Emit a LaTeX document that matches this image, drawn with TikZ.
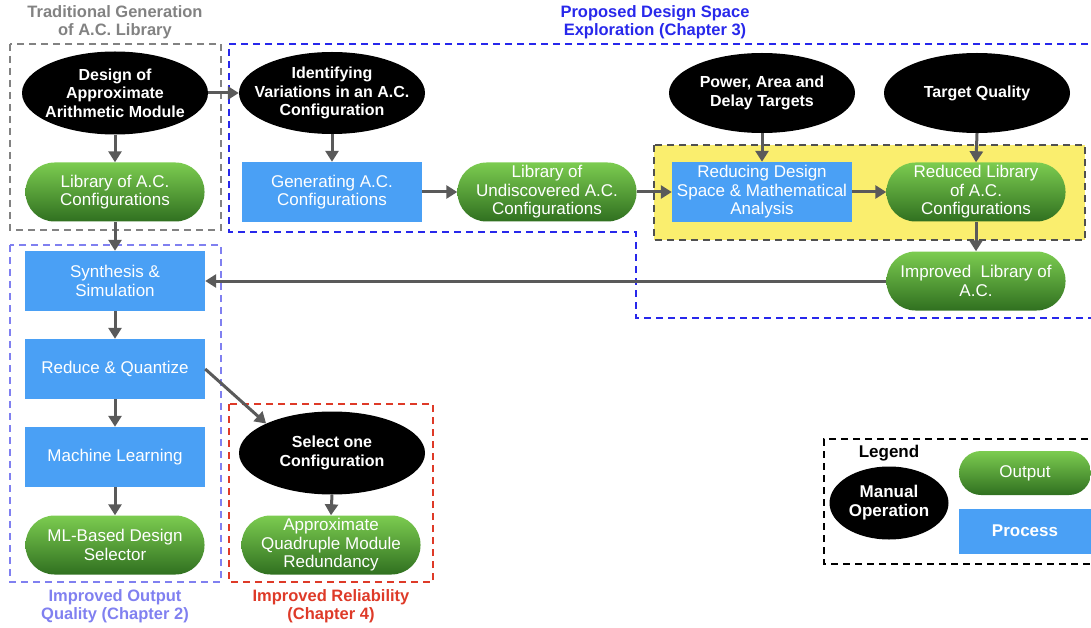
\documentclass[tikz,border=0pt]{standalone}
\usepackage{fontspec}
\setmainfont{Liberation Sans}
\usetikzlibrary{shapes.geometric,arrows.meta}
\definecolor{procblue}{RGB}{74,160,245}
\definecolor{gtop}{RGB}{124,204,80}
\definecolor{gbot}{RGB}{48,112,32}
\definecolor{arrgray}{RGB}{90,90,90}
\definecolor{tradgray}{RGB}{130,130,130}
\definecolor{dseblue}{RGB}{40,40,235}
\definecolor{oqpurple}{RGB}{128,128,240}
\definecolor{relred}{RGB}{222,58,40}
\definecolor{hiyellow}{RGB}{250,238,110}
\definecolor{hiborder}{RGB}{80,80,80}
\tikzset{
  manual/.style={ellipse, fill=black, text=white, inner sep=-40pt, align=center,
    font=\fontsize{16}{18.5}\selectfont\bfseries},
  outbox/.style={rectangle, rounded corners=29pt, top color=gtop, bottom color=gbot,
    text=white, inner sep=0pt, align=center, minimum width=179pt, minimum height=59pt,
    font=\fontsize{17}{18.5}\selectfont},
  procbox/.style={rectangle, fill=procblue, text=white, inner sep=0pt, align=center,
    minimum width=180pt, minimum height=60pt, font=\fontsize{17}{18.5}\selectfont},
  flow/.style={draw=arrgray, line width=3pt, -{Triangle[length=11pt,width=13pt]}},
  groupline/.style={line width=2.6pt, dash pattern=on 7pt off 5pt},
  grouptitle/.style={align=center, font=\fontsize{16.5}{18}\selectfont\bfseries}
}
\begin{document}
\begin{tikzpicture}[x=1pt,y=-1pt]
\useasboundingbox (0,0) rectangle (1091,628);

% group frames
\fill[hiyellow] (654,145) rectangle (1085,240);
\draw[hiborder, groupline] (654,145) rectangle (1085,240);
\draw[tradgray, groupline] (10,44) rectangle (221,230);
\draw[dseblue, groupline] (1100,44) -- (229,44) -- (229,232) -- (636,232) -- (636,318) -- (1100,318);
\draw[oqpurple, groupline] (10,245) rectangle (221,582);
\draw[relred, groupline] (229,404) rectangle (433,582);
\draw[black, groupline] (1100,439) -- (824,439) -- (824,564) -- (1100,564);

% group titles
\node[grouptitle, text=tradgray] (ttrad) at (115,22) {Traditional Generation\\of A.C. Library};
\node[grouptitle, text=dseblue] (tdse) at (655,22) {Proposed Design Space\\Exploration (Chapter 3)};
\node[grouptitle, text=oqpurple] (toq) at (115,606) {Improved Output\\Quality (Chapter 2)};
\node[grouptitle, text=relred] (trel) at (331,606) {Improved Reliability\\(Chapter 4)};

% traditional generation
\node[manual, minimum width=186pt, minimum height=83pt] (design) at (115,93) {Design of\\Approximate\\Arithmetic Module};
\node[outbox] (lib) at (115,192) {Library of A.C.\\Configurations};

% design space exploration
\node[manual, minimum width=186pt, minimum height=82pt] (ident) at (332,93) {Identifying\\Variations in an A.C.\\Configuration};
\node[procbox] (gen) at (332,192) {Generating A.C.\\Configurations};
\node[outbox] (undisc) at (547,192) {Library of\\Undiscovered A.C.\\Configurations};
\node[manual, minimum width=186pt, minimum height=80pt] (pad) at (762,93) {Power, Area and\\Delay Targets};
\node[manual, minimum width=186pt, minimum height=80pt] (tq) at (977,93) {Target Quality};
\node[procbox] (reduce) at (762,192) {Reducing Design\\Space \& Mathematical\\Analysis};
\node[outbox] (redlib) at (976,192) {Reduced Library\\of A.C.\\Configurations};
\node[outbox] (implib) at (976,281) {Improved\ \ Library of\\A.C.};

% output quality
\node[procbox] (synth) at (115,281) {Synthesis \&\\Simulation};
\node[procbox] (rq) at (115,369) {Reduce \& Quantize};
\node[procbox] (ml) at (115,457) {Machine Learning};
\node[outbox] (mlsel) at (115,545) {ML-Based Design\\Selector};

% reliability
\node[manual, minimum width=186pt, minimum height=83pt] (sel) at (332,453) {Select one\\Configuration};
\node[outbox] (aqmr) at (331,545) {Approximate\\Quadruple Module\\Redundancy};

% legend
\node[font=\fontsize{17}{18}\selectfont\bfseries] (legtitle) at (889,453) {Legend};
\node[manual, minimum width=119pt, minimum height=73pt, font=\fontsize{17}{19}\selectfont\bfseries] (legman) at (889,503) {Manual\\Operation};
\node[outbox, rounded corners=22pt, minimum width=132pt, minimum height=44pt] (legout) at (1025,473) {Output};
\node[procbox, minimum width=132pt, minimum height=45pt, font=\fontsize{17}{18}\selectfont\bfseries] (legproc) at (1025,531) {Process};

% connectors
\draw[flow] (design.east) -- (ident.west);
\draw[flow] (design.south) -- (lib.north);
\draw[flow] (ident.south) -- (gen.north);
\draw[flow] (gen.east) -- (undisc.west);
\draw[flow] (undisc.east) -- (reduce.west);
\draw[flow] (pad.south) -- (reduce.north);
\draw[flow] (tq.south) -- (redlib.north);
\draw[flow] (reduce.east) -- (redlib.west);
\draw[flow] (redlib.south) -- (implib.north);
\draw[flow] (implib.west) -- (synth.east);
\draw[flow] (lib.south) -- (synth.north);
\draw[flow] (synth.south) -- (rq.north);
\draw[flow] (rq.south) -- (ml.north);
\draw[flow] (ml.south) -- (mlsel.north);
\draw[flow] (rq.east) -- (sel.north west);
\draw[flow] (sel.south) -- (aqmr.north);
\end{tikzpicture}
\end{document}
